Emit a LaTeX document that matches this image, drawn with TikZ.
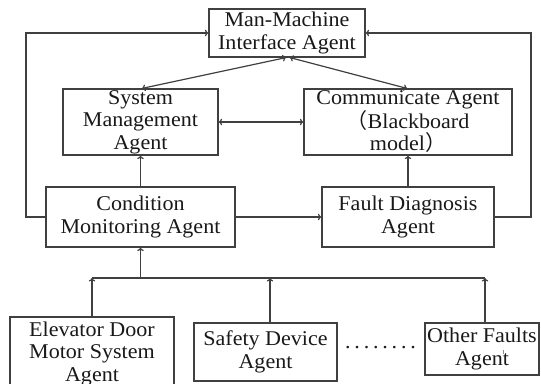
\documentclass[tikz,border=0pt]{standalone}
\usepackage{fontspec}
\setmainfont{Liberation Serif}[FakeStretch=1.05]
\newfontfamily\cjkfont{Noto Sans CJK SC}
\usetikzlibrary{arrows.meta}
\definecolor{linecol}{gray}{0.25}
\newcommand\dotgap{\kern3.8pt}

\begin{document}
\begin{tikzpicture}[x=1pt,y=-1pt,
  box/.style={draw=linecol, line width=1.2pt, inner sep=0pt, align=center,
    font=\fontsize{21}{22.5}\selectfont, text=black!90},
  link/.style={draw=linecol, line width=1.2pt},
  tip/.tip={To[length=3.5pt,width=6.5pt]},
  arr/.style={link, -tip},
  biarr/.style={link, tip-tip}]

% canvas
\fill[white] (0,0) rectangle (541,383);
\useasboundingbox (0,0) rectangle (541,383);
\clip (0,0) rectangle (541,383);

% agents
\node[box, minimum width=156pt, minimum height=48pt] (mm)    at (287,33)    {Man-Machine\\Interface Agent};
\node[box, minimum width=155pt, minimum height=66pt] (sm)    at (140.5,122) {System\\Management\\Agent};
\node[box, minimum width=208pt, minimum height=66pt] (cm)    at (408,122)   {Communicate Agent\\{\cjkfont （}Blackboard\\model{\cjkfont ）}};
\node[box, minimum width=189pt, minimum height=60pt] (cond)  at (140.5,217) {Condition\\Monitoring Agent};
\node[box, minimum width=172pt, minimum height=60pt] (fault) at (408,217)   {Fault Diagnosis\\Agent};
\node[box, minimum width=164pt, minimum height=73pt] (elev)  at (92,353.5)  {Elevator Door\\Motor System\\Agent};
\node[box, minimum width=143pt, minimum height=58pt] (safe)  at (265.5,352) {Safety Device\\Agent};
\node[box, minimum width=114pt, minimum height=52pt] (other) at (482,349)   {Other Faults\\Agent};
\node[font=\fontsize{21}{22.5}\selectfont, text=black!90, anchor=base, inner sep=0pt] (dots) at (380.5,348)
  {.\dotgap.\dotgap.\dotgap.\dotgap.\dotgap.\dotgap.\dotgap.};

% stray tick inside the last box
\draw[linecol!60, line width=0.5pt] ([xshift=21pt,yshift=-1pt]other.center) -- ([xshift=21pt,yshift=-5pt]other.center);

% routing points
\coordinate (lft) at (26,0);
\coordinate (rgt) at (531,0);
\coordinate (bus) at (0,278);
\coordinate (busL) at (92,278);
\coordinate (busR) at (485,278);

% links among the upper agents
\draw[biarr] ([xshift=-1pt]mm.south) -- ([xshift=1.5pt]sm.north);
\draw[biarr] ([xshift=3pt]mm.south) -- ([xshift=-1pt]cm.north);
\draw[biarr] (sm.east) -- (cm.west);
\draw[arr] (cond.north) -- (sm.south);
\draw[arr] (fault.north) -- (cm.south);
\draw[arr] (cond.east) -- (fault.west);

% feedback loops to the interface agent
\draw[arr] (cond.west) -- (cond.west -| lft) -- (mm.west -| lft) -- (mm.west);
\draw[arr] (fault.east) -- (fault.east -| rgt) -- (mm.east -| rgt) -- (mm.east);

% collection bus from the fault agents
\draw[link] (busL) -- (busR);
\draw[arr] (cond.south |- bus) -- (cond.south);
\draw[arr] (elev.north) -- (busL);
\draw[arr] ([xshift=4.5pt]safe.north) -- ([xshift=4.5pt]safe.north |- bus);
\draw[arr] (other.north -| busR) -- (busR);
\end{tikzpicture}
\end{document}
